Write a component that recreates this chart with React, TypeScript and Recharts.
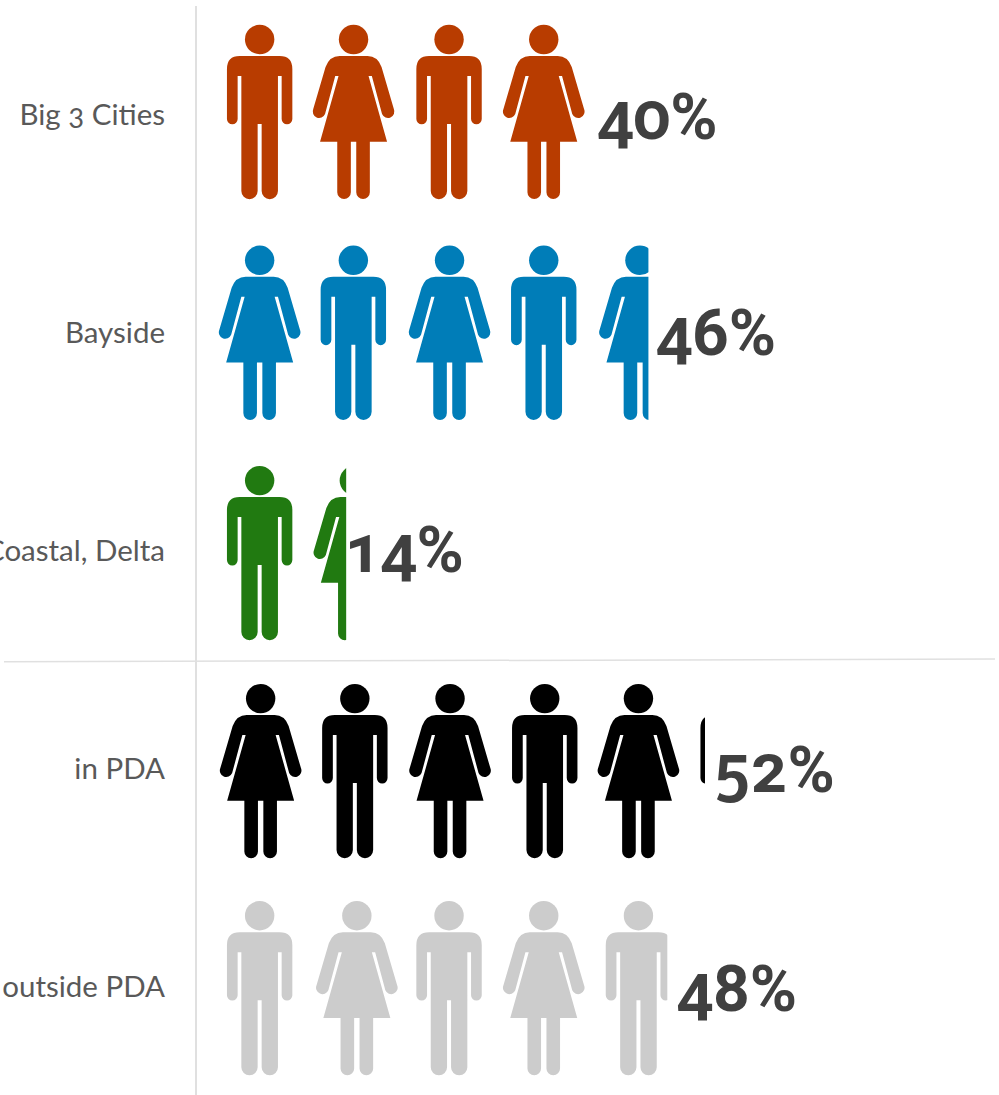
import React from "react";
import { BarChart, Bar, XAxis, YAxis, LabelList, Customized } from "recharts";

const regions = ["Big 3 Cities", "Bayside", "Coastal, Delta", "in PDA", "outside PDA"];
const shares = [40, 46, 14, 52, 48];
const colors = ["#b83c00", "#007db8", "#217a11", "#000000", "#cccccc"];
const firstFigure = ["man", "woman", "man", "woman", "man"];

const chartData = regions.map((region, i) => ({ region, share: shares[i] }));

const MAN =
  "M-20,31 L20,31 Q32.7,31 32.7,44 L32.7,94 A5.35,5.35 0 0 1 22,94 L22,51 L18.3,51 L18.3,166 A8.15,8.15 0 0 1 2,166 L2,99 L-2,99 L-2,166 A8.15,8.15 0 0 1 -18.3,166 L-18.3,51 L-22,51 L-22,94 A5.35,5.35 0 0 1 -32.7,94 L-32.7,44 Q-32.7,31 -20,31 Z";
const WOMAN =
  "M-14,31 L14,31 Q24,31 28,42 L40.3,84 A6.3,6.3 0 0 1 28.5,89 L18.3,51 L15,51 L33.5,116.7 L16.3,116.7 L16.3,167.3 A6.8,6.8 0 0 1 2.7,167.3 L2.7,116.7 L-2.7,116.7 L-2.7,167.3 A6.8,6.8 0 0 1 -16.3,167.3 L-16.3,116.7 L-33.5,116.7 L-15,51 L-18.3,51 L-28.5,89 A6.3,6.3 0 0 1 -40.3,84 L-28,42 Q-24,31 -14,31 Z";

const FIGURE_HEIGHT = 174;
const PITCH = 94.7;
const FIRST_CENTER = 45.7; // from the zero of the scale
const rowNudge = [-3, 0, 2.5, 2.7, 2];
const figureNudge = [
  [0, -0.8, 0, 0, 0, 0],
  [0, -1, 0.5, 0, 1.5, 0],
  [0, 0, 0, 0, 0, 0],
  [1, 0.5, 1, 1, 0, 0],
  [0, 2.5, 0, 0, 0, 0],
];
const labelNudge = [
  [5, 7],
  [7, 5],
  [-3, 4],
  [9, 7],
  [9, 8],
];

const Figure = ({ kind, cx, top, fill }: any) => (
  <g transform={`translate(${cx},${top})`} fill={fill}>
    <circle cx={0} cy={14.5} r={14.7} />
    <path d={kind === "man" ? MAN : WOMAN} />
  </g>
);

const FigureRow = (props: any) => {
  const { x, y, width, height, index } = props;
  const top = y + (height - FIGURE_HEIGHT) / 2 + rowNudge[index];
  const clipId = `row-clip-${index}`;
  const startsMan = firstFigure[index] === "man";
  const slots = [0, 1, 2, 3, 4, 5];
  return (
    <g>
      <defs>
        <clipPath id={clipId}>
          <rect x={x} y={top - 2} width={width} height={FIGURE_HEIGHT + 4} />
        </clipPath>
      </defs>
      <g clipPath={`url(#${clipId})`}>
        {slots.map((s) => (
          <Figure
            key={s}
            kind={(s % 2 === 0) === startsMan ? "man" : "woman"}
            cx={x + FIRST_CENTER + s * PITCH + figureNudge[index][s]}
            top={top}
            fill={colors[index]}
          />
        ))}
      </g>
    </g>
  );
};

const ShareLabel = ({ x, y, width, height, value, index }: any) => (
  <text
    x={x + width + labelNudge[index][0]}
    y={y + height / 2 + labelNudge[index][1]}
    dominantBaseline="middle"
    fontFamily="Roboto, sans-serif"
    fontWeight={700}
    fontSize={64}
    fill="#404040"
    style={{ fontVariantNumeric: "oldstyle-nums", fontFeatureSettings: "'onum'" }}
  >
    {value}%
  </text>
);

const Divider = () => <line x1={4} y1={661.8} x2={995} y2={659} stroke="#e0e0e0" strokeWidth={1.5} />;

export default function App() {
  return (
    <div style={{ position: "absolute", left: 0, top: 0, background: "#fff" }}>
      <BarChart
        width={999}
        height={1095}
        data={chartData}
        layout="vertical"
        margin={{ top: 6, right: 3, bottom: 0, left: 0 }}
      >
        <XAxis type="number" hide domain={[-1.9, 82.8]} allowDataOverflow />
        <YAxis
          type="category"
          dataKey="region"
          width={196}
          axisLine={{ stroke: "#e0e0e0", strokeWidth: 2 }}
          tickLine={false}
          tickSize={0}
          tickMargin={31}
          tick={{ fill: "#595959", fontSize: 29.5, fontFamily: "Lato, sans-serif", style: { fontVariantNumeric: "oldstyle-nums" } }}
          interval={0}
        />
        <Customized component={Divider} />
        <Bar dataKey="share" barSize={FIGURE_HEIGHT} shape={FigureRow} isAnimationActive={false}>
          <LabelList dataKey="share" content={ShareLabel} />
        </Bar>
      </BarChart>
    </div>
  );
}
